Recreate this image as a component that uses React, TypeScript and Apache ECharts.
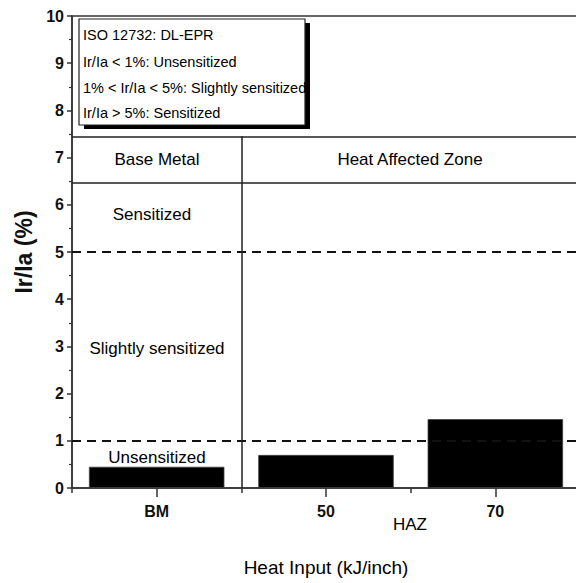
import React, { useEffect, useRef } from "react";
import * as echarts from "echarts";

const categories = ["BM", "50", "70"];
const irIa = [0.45, 0.7, 1.46];
const thresholds = [1, 5];
const tableLines = [7.45, 6.47];
const zoneBoundary = 1;
const yMin = 0;
const yMax = 10;
const yInterval = 1;
const legendLines = [
  "ISO 12732: DL-EPR",
  "Ir/Ia < 1%: Unsensitized",
  "1% < Ir/Ia < 5%: Slightly sensitized",
  "Ir/Ia > 5%: Sensitized",
];
const FONT = "'Liberation Sans', Arial, Helvetica, sans-serif";

export default function App() {
  const ref = useRef<HTMLDivElement>(null);
  useEffect(() => {
    if (!ref.current) return;
    const chart = echarts.init(ref.current, null, { renderer: "svg" });
    const textEl = (
      text: string,
      x: number,
      y: number,
      size: number,
      align = "center",
      weight = "normal"
    ) => ({
      type: "text",
      x,
      y,
      z: 100,
      style: {
        text,
        fontSize: size,
        fontFamily: FONT,
        fontWeight: weight,
        fill: "#000",
        align,
        verticalAlign: "middle",
      },
    });
    const legendY = [35, 62, 88, 113];
    chart.setOption({
      animation: false,
      textStyle: { fontFamily: FONT },
      grid: {
        show: true,
        left: 72,
        top: 16,
        width: 508,
        bottom: 95,
        containLabel: false,
        outerBoundsMode: "none",
        borderColor: "#333",
        borderWidth: 1.5,
        backgroundColor: "transparent",
      },
      xAxis: [
        {
          type: "category",
          data: categories,
          position: "bottom",
          axisLine: { show: true, lineStyle: { color: "#333", width: 1.5 } },
          axisTick: { show: true, alignWithLabel: true, length: 9, lineStyle: { color: "#333", width: 1.5 } },
          axisLabel: { fontSize: 16, fontWeight: "bold", color: "#111", margin: 15, fontFamily: FONT },
          name: "Heat Input (kJ/inch)",
          nameLocation: "middle",
          nameGap: 70,
          nameTextStyle: { fontSize: 19, color: "#000", fontFamily: FONT },
        },
        {
          type: "value",
          min: 0,
          max: 3,
          interval: 1,
          position: "bottom",
          axisLine: { show: false },
          axisTick: { show: true, length: 5, lineStyle: { color: "#333", width: 1.5 } },
          axisLabel: { show: false },
          splitLine: { show: false },
        },
      ],
      yAxis: {
        type: "value",
        min: yMin,
        max: yMax,
        interval: yInterval,
        axisLine: { show: true, lineStyle: { color: "#333", width: 1.5 } },
        axisTick: { show: true, inside: false, length: 5, lineStyle: { color: "#333", width: 1.5 } },
        minorTick: { show: true, splitNumber: 2, length: 3, lineStyle: { color: "#333", width: 1.2 } },
        splitLine: { show: false },
        axisLabel: { fontSize: 16, fontWeight: "bold", color: "#111", margin: 8, fontFamily: FONT },
        name: "Ir/Ia (%)",
        nameLocation: "middle",
        nameGap: 31,
        nameTextStyle: { fontSize: 23, fontWeight: "bold", color: "#111", fontFamily: FONT },
      },
      series: [
        {
          type: "bar",
          xAxisIndex: 0,
          data: irIa,
          barWidth: "80%",
          itemStyle: { color: "#000", borderColor: "#444", borderWidth: 0.8 },
          z: 3,
        },
        {
          type: "line",
          xAxisIndex: 1,
          data: [],
          silent: true,
          markLine: {
            silent: true,
            symbol: ["none", "none"],
            label: { show: false },
            animation: false,
            data: [
              ...thresholds.map((v) => ({
                yAxis: v,
                lineStyle: { type: [9, 6], width: 2, color: "#111" },
              })),
              ...tableLines.map((v) => ({
                yAxis: v,
                lineStyle: { type: "solid", width: 1.5, color: "#222" },
              })),
              [
                { coord: [zoneBoundary, yMin], lineStyle: { type: "solid", width: 1.5, color: "#222" } },
                { coord: [zoneBoundary, tableLines[0]] },
              ],
            ],
          },
        },
      ],
      graphic: [
        { type: "rect", z: 90, shape: { x: 84, y: 23, width: 226, height: 106 }, style: { fill: "#000" } },
        {
          type: "rect",
          z: 91,
          shape: { x: 79, y: 19, width: 226, height: 106 },
          style: { fill: "#fff", stroke: "#222", lineWidth: 1.2 },
        },
        ...legendLines.map((t, i) => textEl(t, 83, legendY[i], 14.5, "left")),
        textEl("Base Metal", 157, 159, 17),
        textEl("Heat Affected Zone", 410, 159, 17),
        textEl("Sensitized", 152, 214, 17),
        textEl("Slightly sensitized", 157, 348, 17),
        textEl("Unsensitized", 157, 457, 17),
        textEl("HAZ", 410, 524, 17),
      ],
    });
    return () => chart.dispose();
  }, []);
  return (
    <div
      ref={ref}
      style={{ position: "absolute", left: 0, top: 0, width: 576, height: 583, background: "#fff" }}
    />
  );
}
